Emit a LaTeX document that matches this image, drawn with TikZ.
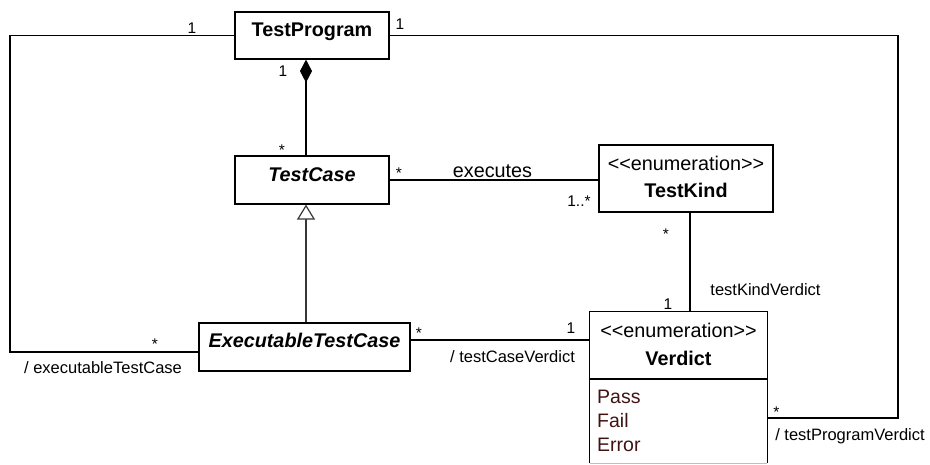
\documentclass[tikz,border=0pt]{standalone}
\usepackage{fontspec}
\setmainfont{Liberation Sans}
\usetikzlibrary{arrows.meta}
\definecolor{litcol}{RGB}{64,18,18}
\definecolor{genline}{RGB}{55,55,55}
% stereotype brackets kept as two separate angle characters
\newcommand{\stereotxt}[1]{<\kern0pt<#1>\kern0pt>}
\begin{document}
\begin{tikzpicture}[x=1pt,y=-1pt,
  classbox/.style={draw, line width=1.2pt, inner sep=0pt},
  cname/.style={anchor=base, font=\fontsize{19.8}{23}\selectfont\bfseries},
  cital/.style={anchor=base, font=\fontsize{19.8}{23}\selectfont\bfseries\itshape},
  stereo/.style={anchor=base, font=\fontsize{19.8}{23}\selectfont},
  literal/.style={anchor=base west, text=litcol, inner sep=0pt, font=\fontsize{19.5}{23}\selectfont},
  role/.style={anchor=base, inner sep=0pt, font=\fontsize{16.5}{19}\selectfont},
  mult/.style={anchor=base, inner sep=0pt, font=\fontsize{15.5}{18}\selectfont},
  assoc/.style={line width=1.2pt},
]
\useasboundingbox (0,0) rectangle (930,464);

% class boxes
\node[classbox, minimum width=154pt, minimum height=47pt] (TP) at (312,35.5) {};
\node[cname] (TPn) at (312,36) {TestProgram};

\node[classbox, minimum width=154pt, minimum height=48pt] (TC) at (312,180) {};
\node[cital] (TCn) at (312,181) {TestCase};

\node[classbox, minimum width=211pt, minimum height=48pt] (ETC) at (304.5,347) {};
\node[cital] (ETCn) at (304.5,347) {ExecutableTestCase};

\node[classbox, minimum width=174pt, minimum height=67pt] (TK) at (686,178.5) {};
\node[stereo] (TKs) at (686,170) {\stereotxt{enumeration}};
\node[cname] (TKn) at (686,197) {TestKind};

% enumeration Verdict with its literal compartment
\node[inner sep=0pt, minimum width=177pt, minimum height=151pt] (VD) at (678.5,387.5) {};
\draw[line width=1.2pt] (VD.south west) |- (VD.north east) -- (VD.south east);
\draw[line width=1pt, black!25] (VD.south west) -- (VD.south east);
\draw[line width=1.2pt] (VD.west |- 0,379) -- (VD.east |- 0,379);
\node[stereo] (VDs) at (678.5,337) {\stereotxt{enumeration}};
\node[cname] (VDn) at (678.5,365) {Verdict};
\node[literal] (lpass) at (597,403) {Pass};
\node[literal] (lfail) at (597,427) {Fail};
\node[literal] (lerr) at (597,451) {Error};

% composition TestProgram <>-- TestCase
\draw[assoc, {Diamond[length=23pt,width=12pt]}-] ([xshift=-6pt]TP.south) -- ([xshift=-6pt]TC.north);
\node[mult] at (283,76) {1};
\node[mult] at (282,155) {*};

% generalization ExecutableTestCase --|> TestCase
\draw[line width=1.2pt, genline, -{Triangle[open, length=15pt, width=18pt, fill=white]}]
  ([xshift=1.5pt]ETC.north) -- ([xshift=-6pt]TC.south);

% executes
\draw[assoc] (TC.east) -- (TC.east -| TK.west);
\node[mult] at (399,178) {*};
\node[stereo] (exe) at (492.5,177) {executes};
\node[mult] at (579,206) {1..*};

% testKindVerdict
\coordinate (kv) at ([xshift=4pt]TK.south);
\draw[assoc] (kv) -- (kv |- VD.north);
\node[mult] at (666,239) {*};
\node[mult] at (668,309) {1};
\node[role] at (765.5,295) {testKindVerdict};

% testCaseVerdict
\coordinate (ev) at ([yshift=7pt]ETC.east);
\draw[assoc] (ev) -- (ev -| VD.west);
\node[mult] at (419,338) {*};
\node[mult] at (571,333) {1};
\node[role] at (512.5,362) {/ testCaseVerdict};

% executableTestCase (left loop)
\coordinate (lc) at (10,352);
\draw[assoc] (TP.west) -| (lc) -- (lc -| ETC.west);
\node[mult] at (192,33) {1};
\node[mult] at (155,349) {*};
\node[role] at (103,373) {/ executableTestCase};

% testProgramVerdict (right loop)
\coordinate (rc) at (898,418);
\draw[assoc] (TP.east) -| (rc) -- (rc -| VD.east);
\node[mult] at (400,29) {1};
\node[mult] at (776.5,417) {*};
\node[role] at (850,440) {/ testProgramVerdict};
\end{tikzpicture}
\end{document}
